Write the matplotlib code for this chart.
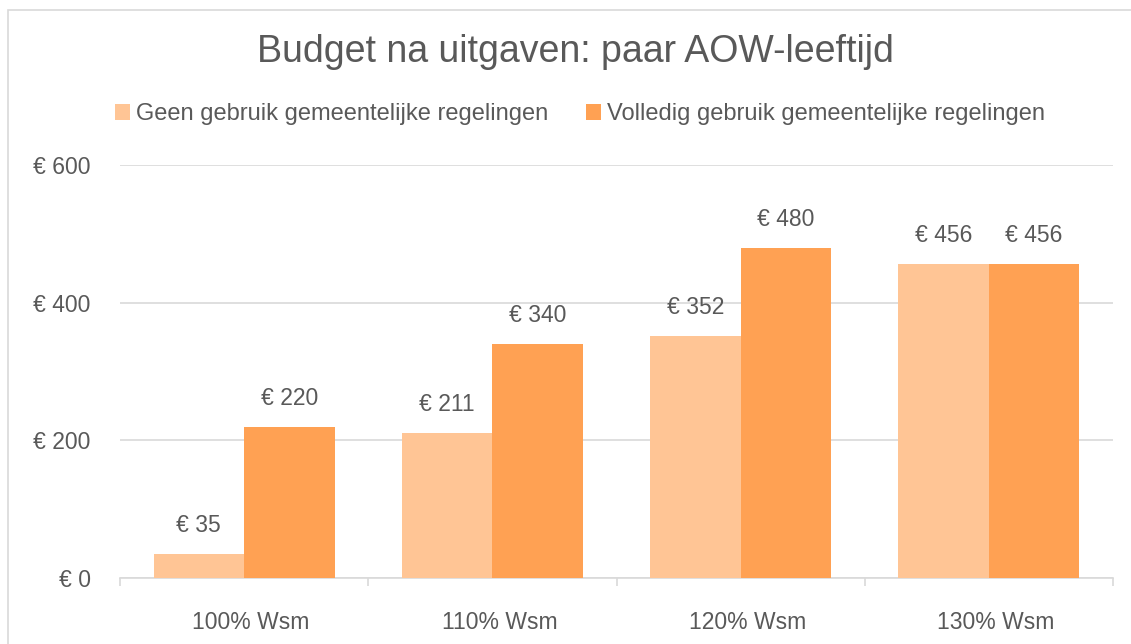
import matplotlib.pyplot as plt
import matplotlib.transforms as mtransforms
import numpy as np
from matplotlib.patches import Rectangle

categories = ['100% Wsm', '110% Wsm', '120% Wsm', '130% Wsm']
series_names = ['Geen gebruik gemeentelijke regelingen',
                'Volledig gebruik gemeentelijke regelingen']
geen = [35, 211, 352, 456]
volledig = [220, 340, 480, 456]
y_ticks = [0, 200, 400, 600]

text_color = '#595959'
grid_color = '#d9d9d9'
colors = ['#FFC595', '#FFA153']

plt.rcParams['font.family'] = ['Liberation Sans', 'DejaVu Sans']

fig = plt.figure(figsize=(11.31, 6.44), dpi=100)
# Outer chart border.
fig.patches.append(Rectangle((8 / 1131, -0.1), 1.2, 1 - 10 / 644 + 0.1,
                             transform=fig.transFigure, fill=False,
                             edgecolor=grid_color, linewidth=1.2))

ax = fig.add_axes([120 / 1131, 66 / 644, (1113 - 120) / 1131, (578 - 165) / 644])
x = np.arange(len(categories))
width = 0.365

bars1 = ax.bar(x - width / 2, geen, width, color=colors[0], label=series_names[0], zorder=3)
bars2 = ax.bar(x + width / 2, volledig, width, color=colors[1], label=series_names[1], zorder=3)

for bars in (bars1, bars2):
    for b in bars:
        ax.annotate(f'€ {int(b.get_height())}', (b.get_x() + b.get_width() / 2, b.get_height()),
                    xytext=(0, 12), textcoords='offset points', ha='center', va='bottom',
                    fontsize=16.5, color=text_color)

ax.set_xlim(-0.5, len(categories) - 0.5)
ax.set_ylim(0, 600)
ax.set_yticks(y_ticks)
ax.set_yticklabels([f'€ {v}' for v in y_ticks])
ax.yaxis.grid(True, color=grid_color, linewidth=1.2, zorder=0)
ax.tick_params(axis='y', length=0, labelsize=16.5, labelcolor=text_color, pad=21)

ax.set_xticks(x)
ax.set_xticklabels(categories)
ax.tick_params(axis='x', length=0, labelsize=16.5, labelcolor=text_color, pad=24)
shift = mtransforms.ScaledTranslation(7 / 100, 0, fig.dpi_scale_trans)
for lbl in ax.get_xticklabels():
    lbl.set_transform(lbl.get_transform() + shift)
# Category separator ticks below the axis.
ax.set_xticks(np.arange(-0.5, len(categories)), minor=True)
ax.tick_params(axis='x', which='minor', length=6, color=grid_color, width=1.2)

for s in ['top', 'right', 'left']:
    ax.spines[s].set_visible(False)
ax.spines['bottom'].set_color(grid_color)
ax.spines['bottom'].set_linewidth(1.2)

fig.suptitle('Budget na uitgaven: paar AOW-leeftijd', x=575 / 1131, y=1 - 52 / 644,
             va='center', fontsize=27, color=text_color)

leg = fig.legend(loc='center', bbox_to_anchor=(580 / 1131, 1 - 114 / 644), ncol=2,
                 frameon=False, fontsize=17, handlelength=0.65, handleheight=0.65,
                 handletextpad=0.25, columnspacing=1.6)
for t in leg.get_texts():
    t.set_color(text_color)

fig.savefig('out.png', dpi=100)
